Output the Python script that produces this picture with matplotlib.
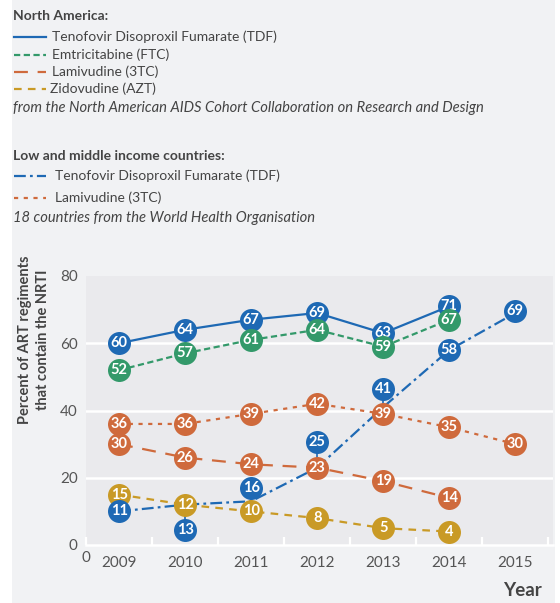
import numpy as np
import matplotlib.pyplot as plt
from matplotlib.lines import Line2D
from matplotlib.patches import Rectangle

plt.rcParams['font.family'] = ['Lato', 'DejaVu Sans']
plt.rcParams['lines.scale_dashes'] = False

# === Data ===
years_na = [2009, 2010, 2011, 2012, 2013, 2014]
years_lmic = [2009, 2010, 2011, 2012, 2013, 2014, 2015]

na_tdf = [60, 64, 67, 69, 63, 71]
na_ftc = [52, 57, 61, 64, 59, 67]
na_3tc = [30, 26, 24, 23, 19, 14]
na_azt = [15, 12, 10, 8, 5, 4]

lmic_3tc = [36, 36, 39, 42, 39, 35, 30]
# TDF line path and its labelled circles sit apart in the source chart
lmic_tdf_line = [10, 12, 13, 23, 41, 58, 69]
lmic_tdf_circle = [10, 4.5, 17, 30.5, 46.5, 58, 69.5]
lmic_tdf_label = [11, 13, 16, 25, 41, 58, 69]

year_ticks = [2009, 2010, 2011, 2012, 2013, 2014, 2015]
y_ticks = [0, 20, 40, 60, 80]

BLUE = '#1E69B4'
GREEN = '#33996A'
ORANGE = '#CF6A3C'
GOLD = '#C99A26'
PANEL = '#F1F2F4'
PLOTBG = '#EAEAED'
TXT = '#444444'

W, H = 560, 603
fig = plt.figure(figsize=(W / 100, H / 100), dpi=100)
fig.patch.set_facecolor('white')

# overlay in pixel coords for the panel and legend text
ov = fig.add_axes([0, 0, 1, 1], zorder=0)
ov.set_xlim(0, W)
ov.set_ylim(H, 0)
ov.axis('off')
ov.add_patch(Rectangle((12, 0), 543, H, color=PANEL, lw=0))

ax = fig.add_axes([86 / W, 1 - 545 / H, (553 - 86) / W, (545 - 276) / H], zorder=1)
ax.set_facecolor(PLOTBG)
ax.set_xlim(2008.5, 2015.57)
ax.set_ylim(0, 80)
for s in ['left', 'right', 'top']:
    ax.spines[s].set_visible(False)
ax.spines['bottom'].set_color('white')
ax.spines['bottom'].set_linewidth(1.8)
for v in y_ticks[1:-1]:
    ax.axhline(v, color='white', lw=1.8, zorder=0)

ax.set_yticks(y_ticks)
ax.set_yticklabels([str(v) for v in y_ticks], color='#555555', fontsize=11)
ax.tick_params(axis='y', length=0, pad=6)
ax.set_xticks(year_ticks)
ax.set_xticklabels([str(v) for v in year_ticks], color='#555555', fontsize=11)
ax.tick_params(axis='x', which='major', length=0, pad=8)
ax.set_xticks(np.arange(2008.5, 2016, 1.0), minor=True)
ax.tick_params(axis='x', which='minor', direction='in', length=6, width=1.6, color='white')

styles = {
    'na_tdf': dict(color=BLUE, ls='-'),
    'na_ftc': dict(color=GREEN, dashes=(4.5, 2.5)),
    'na_3tc': dict(color=ORANGE, dashes=(10, 7)),
    'na_azt': dict(color=GOLD, dashes=(5.5, 4.5)),
    'lmic_tdf': dict(color=BLUE, dashes=(8.5, 3, 2, 3)),
    'lmic_3tc': dict(color=ORANGE, dashes=(3, 4)),
}

lw = 1.6
ax.plot(years_na, na_tdf, lw=lw, zorder=2, **styles['na_tdf'])
ax.plot(years_na, na_ftc, lw=lw, zorder=2, **styles['na_ftc'])
ax.plot(years_na, na_3tc, lw=lw, zorder=2, **styles['na_3tc'])
ax.plot(years_na, na_azt, lw=lw, zorder=2, **styles['na_azt'])
ax.plot(years_lmic, lmic_3tc, lw=lw, zorder=2, **styles['lmic_3tc'])
ax.plot(years_lmic, lmic_tdf_line, lw=lw, zorder=2, **styles['lmic_tdf'])
# short sticks joining offset circles to the line
for x, a, b in zip(years_lmic, lmic_tdf_line, lmic_tdf_circle):
    if abs(a - b) > 3:
        ax.plot([x, x], [a, b], color=BLUE, lw=1.2, zorder=2)


def circles(xs, ys, labels, color, z):
    ax.scatter(xs, ys, s=23 ** 2 * 0.72 ** 2, color=color, zorder=z, clip_on=False, lw=0)
    for x, y, t in zip(xs, ys, labels):
        ax.text(x, y, str(t), color='white', fontsize=10.5, fontweight='bold',
                ha='center', va='center', zorder=z + 0.5)


circles(years_na, na_tdf, na_tdf, BLUE, 3)
circles(years_na, na_ftc, na_ftc, GREEN, 4)
circles(years_lmic, lmic_3tc, lmic_3tc, ORANGE, 5)
circles(years_na, na_3tc, na_3tc, ORANGE, 6)
circles(years_na, na_azt, na_azt, GOLD, 7)
circles(years_lmic, lmic_tdf_circle, lmic_tdf_label, BLUE, 8)

# axis titles
ov.text(34, 340, 'Percent of ART regiments\nthat contain the NRTI', rotation=90,
        ha='center', va='center', fontsize=10.5, fontweight='bold', color=TXT,
        linespacing=1.4)
ov.text(86, 558, '0', ha='center', va='center', fontsize=11, color='#555555')
ov.text(522, 591, 'Year', ha='center', va='center', fontsize=13.5, fontweight='bold', color=TXT)

# legend block
fs = 10
ov.text(13, 16, 'North America:', fontsize=fs, fontweight='bold', color=TXT, va='center')
leg = [
    (37, 'Tenofovir Disoproxil Fumarate (TDF)', 'na_tdf', 52),
    (55, 'Emtricitabine (FTC)', 'na_ftc', 52),
    (72, 'Lamivudine (3TC)', 'na_3tc', 52),
    (89, 'Zidovudine (AZT)', 'na_azt', 50),
]
for y, t, k, tx in leg:
    ov.add_line(Line2D([14, 46], [y, y], lw=1.6, **styles[k]))
    ov.text(tx, y, t, fontsize=fs, color=TXT, va='center')
ov.text(13, 108, 'from the North American AIDS Cohort Collaboration on Research and Design',
        fontsize=10.6, style='italic', color=TXT, va='center')

ov.text(13, 156, 'Low and middle income countries:', fontsize=fs, fontweight='bold', color=TXT, va='center')
leg2 = [
    (176, 'Tenofovir Disoproxil Fumarate (TDF)', 'lmic_tdf', 55),
    (198, 'Lamivudine (3TC)', 'lmic_3tc', 55),
]
for y, t, k, tx in leg2:
    ov.add_line(Line2D([14, 46], [y, y], lw=1.6, **styles[k]))
    ov.text(tx, y, t, fontsize=fs, color=TXT, va='center')
ov.text(13, 218, '18 countries from the World Health Organisation',
        fontsize=10.6, style='italic', color=TXT, va='center')

fig.savefig('out.png', dpi=100)
